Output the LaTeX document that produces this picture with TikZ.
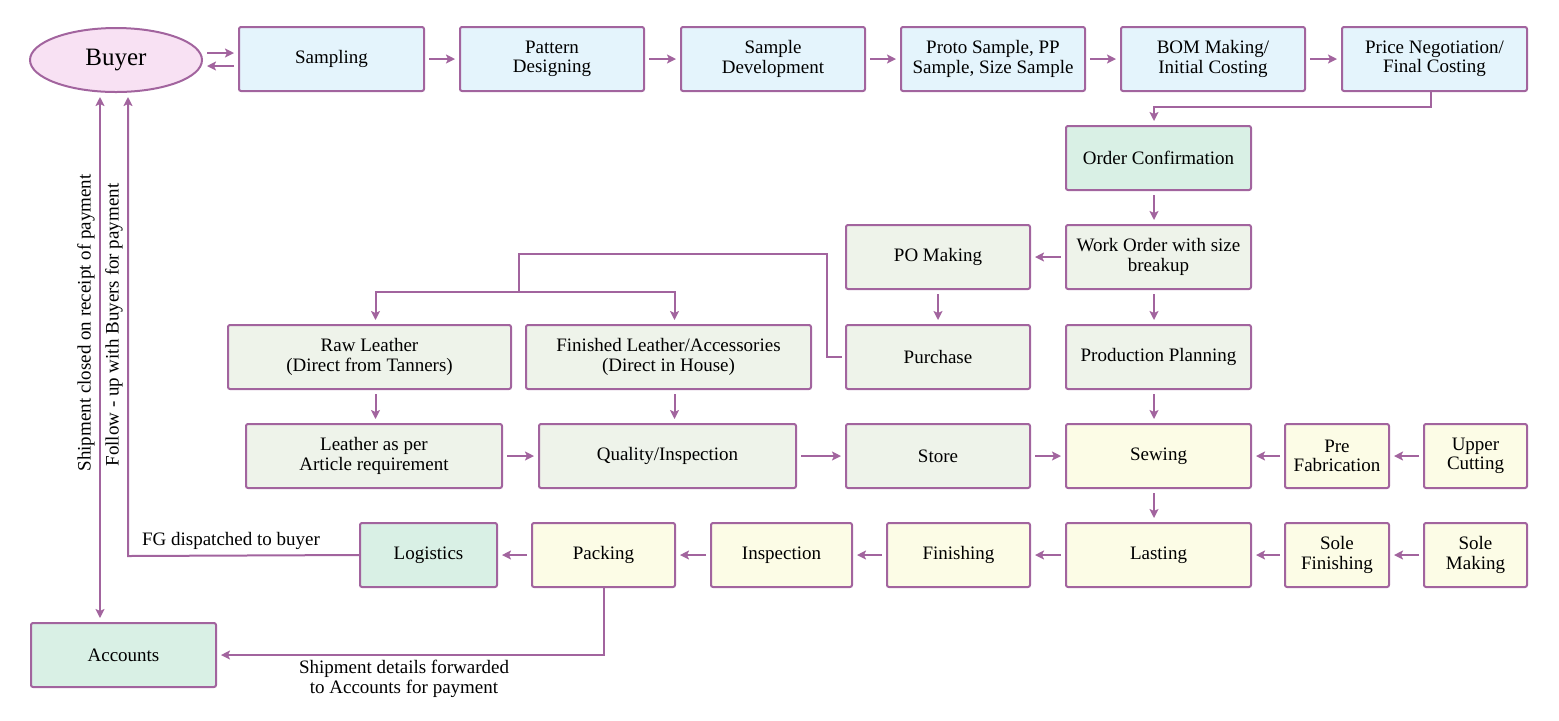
\documentclass[tikz,border=0pt]{standalone}
\usepackage{fontspec}
\setmainfont{Liberation Serif}
\usetikzlibrary{arrows.meta,shapes.geometric,calc}
\definecolor{edge}{HTML}{A2649E}
\definecolor{fblue}{HTML}{E4F4FC}
\definecolor{fgray}{HTML}{EEF3EA}
\definecolor{fmint}{HTML}{D9F0E5}
\definecolor{fyellow}{HTML}{FCFCE6}
\definecolor{fpink}{HTML}{F8E1F3}
\begin{document}
\begin{tikzpicture}[x=0.5pt,y=-0.5pt,
  box/.style={draw=edge,line width=1pt,rounded corners=1pt,minimum height=32pt,
    inner sep=1pt,align=center,font=\fontsize{9.5pt}{9.6pt}\selectfont},
  bl/.style={box,fill=fblue},
  gr/.style={box,fill=fgray},
  mi/.style={box,fill=fmint},
  ye/.style={box,fill=fyellow},
  arr/.style={draw=edge,line width=1pt,-{Stealth[length=4.5pt,width=4.5pt,inset=1pt]},shorten >=2pt,shorten <=2pt},
  ln/.style={draw=edge,line width=1pt},
  lbl/.style={font=\fontsize{9.5pt}{9.8pt}\selectfont,align=center,inner sep=0pt}]
\useasboundingbox (0,0) rectangle (1559,720);
% row 1
\node[ellipse,draw=edge,line width=1pt,fill=fpink,minimum width=86pt,minimum height=32pt,font=\fontsize{12.5pt}{13pt}\selectfont] (buyer) at (116,60) {Buyer};
\node[bl,minimum width=92.5pt] (sampling) at (331.5,59) {Sampling};
\node[bl,minimum width=92pt] (pattern) at (552,59) {Pattern\\Designing};
\node[bl,minimum width=92pt] (sdev) at (773,59) {Sample\\Development};
\node[bl,minimum width=92pt] (proto) at (993,59) {Proto Sample, PP\\Sample, Size Sample};
\node[bl,minimum width=92pt] (bom) at (1213,59) {BOM Making/\\Initial Costing};
\node[bl,minimum width=92.5pt] (price) at (1434.5,59) {Price Negotiation/\\Final Costing};
% column
\node[mi,minimum width=92.5pt] (order) at (1158.5,158) {Order Confirmation};
\node[gr,minimum width=92.5pt] (work) at (1158.5,257) {Work Order with size\\breakup};
\node[gr,minimum width=92pt] (po) at (938,257) {PO Making};
\node[gr,minimum width=92pt] (purchase) at (938,357) {Purchase};
\node[gr,minimum width=92.5pt] (plan) at (1158.5,357) {Production Planning};
\node[gr,minimum width=141.5pt] (raw) at (369.5,357) {Raw Leather\\(Direct from Tanners)};
\node[gr,minimum width=142.5pt] (fin) at (668.5,357) {Finished Leather/Accessories\\(Direct in House)};
% row 4
\node[gr,minimum width=128pt] (lap) at (374,456) {Leather as per\\Article requirement};
\node[gr,minimum width=128.5pt] (qual) at (667.5,456) {Quality/Inspection};
\node[gr,minimum width=92pt] (store) at (938,456) {Store};
\node[ye,minimum width=92.5pt] (sew) at (1158.5,456) {Sewing};
\node[ye,minimum width=52pt] (pre) at (1337,456) {Pre\\Fabrication};
\node[ye,minimum width=51.5pt] (upper) at (1475.5,456) {Upper\\Cutting};
% row 5
\node[mi,minimum width=68.5pt] (log) at (428.5,555) {Logistics};
\node[ye,minimum width=71.5pt] (pack) at (603.5,555) {Packing};
\node[ye,minimum width=70.5pt] (insp) at (781.5,555) {Inspection};
\node[ye,minimum width=71.5pt] (finish) at (958.5,555) {Finishing};
\node[ye,minimum width=92.5pt] (last) at (1158.5,555) {Lasting};
\node[ye,minimum width=52pt] (solefin) at (1337,555) {Sole\\Finishing};
\node[ye,minimum width=51.5pt] (solemak) at (1475.5,555) {Sole\\Making};
\node[mi,minimum width=92.5pt] (acc) at (123.5,655) {Accounts};
% arrows row 1
\draw[arr] ([yshift=3.5pt]buyer.east) -- ([yshift=3pt]sampling.west);
\draw[arr] ([yshift=-3.5pt]sampling.west) -- ([yshift=-3pt]buyer.east);
\draw[arr] (sampling) -- (pattern);
\draw[arr] (pattern) -- (sdev);
\draw[arr] (sdev) -- (proto);
\draw[arr] (proto) -- (bom);
\draw[arr] (bom) -- (price);
\coordinate (pc) at (1430,107);
\draw[arr,shorten <=0pt] ([xshift=-2pt]price.south) |- (pc) -| ([xshift=-2.25pt]order.north);
\draw[arr] ([xshift=-2.25pt]order.south) -- ([xshift=-2.25pt]work.north);
\draw[arr] (work) -- (po);
\draw[arr] (po) -- (purchase);
\draw[arr] ([xshift=-2.25pt]work.south) -- ([xshift=-2.25pt]plan.north);
\coordinate (split) at (519,292);
\draw[ln] ([xshift=-1.5pt]purchase.west) -- ++(-15,0) |- (519,254) -- (split);
\draw[arr,shorten <=0pt] (split) -| ([xshift=3pt]raw.north);
\draw[arr,shorten <=0pt] (split) -| ([xshift=3pt]fin.north);
\draw[arr] ([xshift=3pt]raw.south) -- ([xshift=3pt]raw.south |- lap.north);
\draw[arr] ([xshift=3pt]fin.south) -- ([xshift=3pt]fin.south |- qual.north);
\draw[arr] (lap) -- (qual);
\draw[arr] (qual) -- (store);
\draw[arr] (store) -- (sew);
\draw[arr] ([xshift=-2.25pt]plan.south) -- ([xshift=-2.25pt]sew.north);
\draw[arr] (pre) -- (sew);
\draw[arr] (upper) -- (pre);
\draw[arr] ([xshift=-2.25pt]sew.south) -- ([xshift=-2.25pt]last.north);
\draw[arr] (solemak) -- (solefin);
\draw[arr] (solefin) -- (last);
\draw[arr] (last) -- (finish);
\draw[arr] (finish) -- (insp);
\draw[arr] (insp) -- (pack);
\draw[arr] (pack) -- (log);
% return paths
\coordinate (fg) at (128,556);
\draw[arr,shorten <=0pt] (log.west) -- (fg) -- (fg |- buyer.south);
\node[lbl,anchor=south] (fglbl) at (231,550) {FG dispatched to buyer};
\draw[arr,shorten <=0pt] (pack.south) |- (acc.east);
\node[lbl,anchor=north] (shiplbl) at (404,660) {Shipment details forwarded\\to Accounts for payment};
\draw[draw=edge,line width=1pt,{Stealth[length=4.5pt,width=4.5pt,inset=1pt]}-{Stealth[length=4.5pt,width=4.5pt,inset=1pt]},shorten >=2pt,shorten <=2pt] ([xshift=-8pt]buyer.south) -- ([xshift=-11.75pt]acc.north);
\node[lbl,rotate=90] (closed) at (86,323) {Shipment closed on receipt of payment};
\node[lbl,rotate=90] (follow) at (114,325) {Follow - up with Buyers for payment};
\end{tikzpicture}
\end{document}
